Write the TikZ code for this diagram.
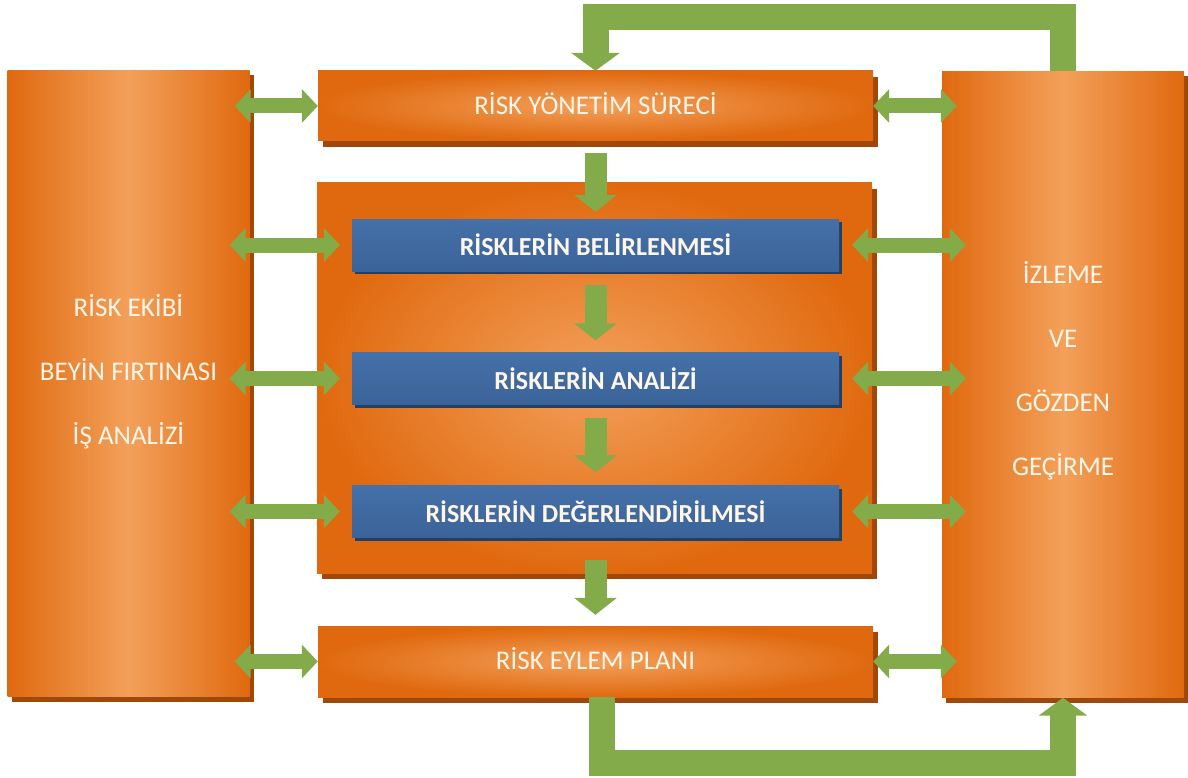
\documentclass[tikz,border=0pt]{standalone}
\usepackage{fontspec}
\setmainfont{Carlito}
\usetikzlibrary{positioning,arrows.meta,shadows}
\definecolor{tturuncu}{HTML}{E0690F}
\definecolor{tacik}{HTML}{F3A05A}
\definecolor{tgolge}{HTML}{A0470A}
\definecolor{tmavi}{HTML}{3A6399}
\definecolor{tmaviacik}{HTML}{4571A8}
\definecolor{tmavigolge}{HTML}{223F66}
\definecolor{tyesil}{HTML}{84AB4A}
\definecolor{tyazi}{HTML}{FFF6EA}

\begin{document}
\begin{tikzpicture}[
    x=1pt, y=-1pt,
    yankutu/.style={rectangle, minimum width=242pt, minimum height=626pt,
                    left color=tturuncu, right color=tturuncu, middle color=tacik,
                    general shadow={fill=tgolge, shadow xshift=4pt, shadow yshift=-5pt}},
    anakutu/.style={rectangle, minimum width=555pt, inner color=tacik, outer color=tturuncu,
                    general shadow={fill=tgolge, shadow xshift=5pt, shadow yshift=-6pt},
                    text=tyazi, font=\fontsize{27}{30}\selectfont, text depth=6pt},
    mavikutu/.style={rectangle, minimum width=487pt, minimum height=52pt,
                     top color=tmaviacik, bottom color=tmavi,
                     general shadow={fill=tmavigolge, shadow xshift=3pt, shadow yshift=-3pt},
                     text=tyazi, font=\fontsize{26}{30}\selectfont\bfseries},
    yazi/.style={text=tyazi, align=center, font=\fontsize{27}{64}\selectfont},
    ciftok/.style={draw=tyesil, line width=15pt,
                   {Triangle[width=33pt,length=16pt]}-{Triangle[width=33pt,length=16pt]}},
    asagiok/.style={draw=tyesil, line width=22pt, -{Triangle[width=42pt,length=17pt]}},
    donguok/.style={draw=tyesil, line width=26pt, line join=miter,
                    -{Triangle[width=48pt,length=18pt]}}
  ]
  \useasboundingbox (0,0) rectangle (1188,778);

  % yan kutular
  \node[yankutu] (ekip) at (128.5,383.5) {};
  \node[yazi] (ekipyazi) at ([yshift=12pt]ekip.center) {RİSK EKİBİ\\BEYİN FIRTINASI\\İŞ ANALİZİ};
  \node[yankutu] (izleme) at (1063,384.5) {};
  \node[yazi] (izlemeyazi) at ([yshift=14pt]izleme.center) {İZLEME\\VE\\GÖZDEN\\GEÇİRME};

  % orta sutun
  \node[anakutu, minimum height=70pt] (surec) at (595.5,106) {RİSK YÖNETİM SÜRECİ};
  \node[anakutu, minimum height=390pt] (orta) at (594.5,378) {};
  \node[mavikutu] (belirle) at (595.5,245) {RİSKLERİN BELİRLENMESİ};
  \node[mavikutu] (analiz) at (595.5,378.5) {RİSKLERİN ANALİZİ};
  \node[mavikutu] (deger) at (595.5,511.5) {RİSKLERİN DEĞERLENDİRİLMESİ};
  \node[anakutu, minimum height=71pt] (plan) at (595.5,661.5) {RİSK EYLEM PLANI};

  % asagi oklar
  \draw[asagiok, shorten <=12pt, shorten >=7pt] (surec) -- (belirle);
  \draw[asagiok, shorten <=14pt, shorten >=12pt] (belirle) -- (analiz);
  \draw[asagiok, shorten <=13pt, shorten >=13pt] (analiz) -- (deger);
  \draw[asagiok, shorten <=22pt, shorten >=11pt] (deger) -- (plan);

  % cift yonlu oklar
  \draw[ciftok, shorten <=-15pt] (ekip.east |- surec) -- (surec.west);
  \draw[ciftok, shorten >=-15pt] (surec.east) -- (izleme.west |- surec);
  \foreach \k in {belirle, analiz, deger} {
    \draw[ciftok, shorten <=-20pt, shorten >=12pt] (ekip.east |- \k) -- (\k.west);
    \draw[ciftok, shorten <=13pt, shorten >=-24pt] (\k.east) -- (izleme.west |- \k);
  }
  \draw[ciftok, shorten <=-15pt] (ekip.east |- plan) -- (plan.west);
  \draw[ciftok, shorten >=-15pt] (plan.east) -- (izleme.west |- plan);

  % geri besleme
  \draw[donguok] (izleme.north) -- ++(0,-54) -| (surec.north);
  \draw[donguok] ([xshift=6pt]plan.south) -- ++(0,66) -| (izleme.south);

\end{tikzpicture}
\end{document}
